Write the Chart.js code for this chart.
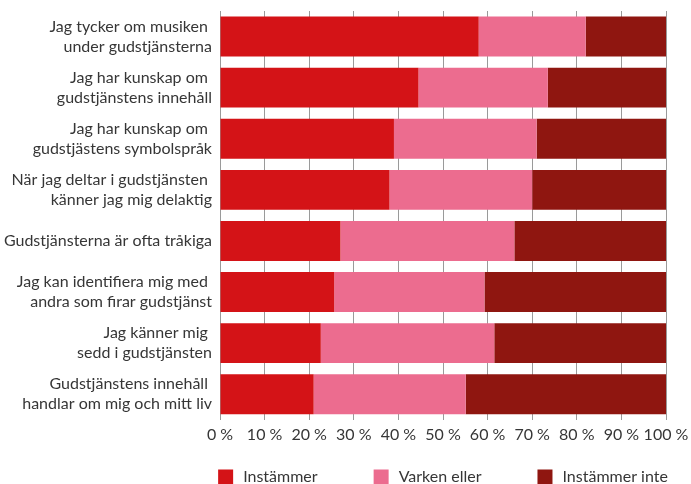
<!DOCTYPE html>
<html>
<head>
<meta charset="utf-8">
<script src="https://cdn.jsdelivr.net/npm/chart.js@4"></script>
<style>
  html, body { margin: 0; padding: 0; background: #fff; }
  #wrap { width: 691px; height: 484px; }
</style>
</head>
<body>
<div id="wrap"><canvas id="c" width="691" height="484"></canvas></div>
<script>
const categories = [
  ["Jag tycker om musiken ", "under gudstjänsterna"],
  ["Jag har kunskap om ", "gudstjänstens innehåll"],
  ["Jag har kunskap om ", "gudstjästens symbolspråk"],
  ["När jag deltar i gudstjänsten ", "känner jag mig delaktig"],
  ["Gudstjänsterna är ofta tråkiga"],
  ["Jag kan identifiera mig med ", "andra som firar gudstjänst"],
  ["Jag känner mig ", "sedd i gudstjänsten"],
  ["Gudstjänstens innehåll ", "handlar om mig och mitt liv"]
];
const seriesNames = ["Instämmer", "Varken eller", "Instämmer inte"];
const instammer = [58, 44.5, 39, 38, 27, 25.6, 22.6, 21];
const varkenEller = [24, 29, 32, 32, 39, 33.7, 38.9, 34.1];
const instammerInte = [18, 26.5, 29, 30, 34, 40.7, 38.5, 44.9];
const xTicks = [0, 10, 20, 30, 40, 50, 60, 70, 80, 90, 100];

const colors = ["#D41317", "#EC6C8F", "#8F1610"];
const FONT = "Lato, 'Open Sans', sans-serif";
const TEXT = '#363636';

const legendPlugin = {
  id: 'customLegend',
  afterDraw(chart) {
    const ctx = chart.ctx;
    const ca = chart.chartArea;
    ctx.save();
    ctx.font = "16px " + FONT;
    ctx.textBaseline = 'middle';
    ctx.textAlign = 'left';
    const box = 15, gapText = 10, gapItem = 56;
    const items = chart.data.datasets.map(d => ({ text: d.label, color: d.backgroundColor, w: box + gapText + ctx.measureText(d.label).width }));
    const total = items.reduce((s, it) => s + it.w, 0) + gapItem * (items.length - 1);
    let x = (ca.left + ca.right) / 2 - total / 2;
    const y = 477;
    items.forEach(it => {
      ctx.fillStyle = it.color;
      ctx.fillRect(x, y - 7.5, box, 15);
      ctx.fillStyle = TEXT;
      ctx.fillText(it.text, x + box + gapText, y);
      x += it.w + gapItem;
    });
    ctx.restore();
  }
};

new Chart(document.getElementById('c'), {
  type: 'bar',
  data: {
    labels: categories,
    datasets: [
      { label: seriesNames[0], data: instammer, backgroundColor: colors[0] },
      { label: seriesNames[1], data: varkenEller, backgroundColor: colors[1] },
      { label: seriesNames[2], data: instammerInte, backgroundColor: colors[2] }
    ]
  },
  options: {
    indexAxis: 'y',
    responsive: false,
    animation: false,
    devicePixelRatio: 1,
    layout: { padding: { top: 11, right: 25, bottom: 35, left: 0 } },
    datasets: { bar: { categoryPercentage: 1, barPercentage: 0.78, borderWidth: 0 } },
    plugins: { legend: { display: false }, tooltip: { enabled: false } },
    scales: {
      x: {
        stacked: true,
        min: 0, max: 100,
        afterBuildTicks(scale) { scale.ticks = xTicks.map(v => ({ value: v })); },
        afterFit(scale) { scale.paddingLeft = 0; scale.paddingRight = 0; },
        grid: { color: '#9a9a9a', lineWidth: 1, drawTicks: false },
        border: { display: false },
        ticks: {
          padding: 5,
          color: TEXT,
          font: { family: FONT, size: 16 },
          callback: v => v + ' %',
          maxRotation: 0, autoSkip: false
        }
      },
      y: {
        stacked: true,
        grid: { display: false, drawTicks: false },
        border: { display: false },
        afterFit(scale) { scale.width = 220; scale.paddingTop = 0; scale.paddingBottom = 0; },
        ticks: {
          padding: 8,
          color: TEXT,
          font: { family: FONT, size: 16, lineHeight: 1.25 },
          autoSkip: false
        }
      }
    }
  },
  plugins: [legendPlugin]
});
</script>
</body>
</html>
